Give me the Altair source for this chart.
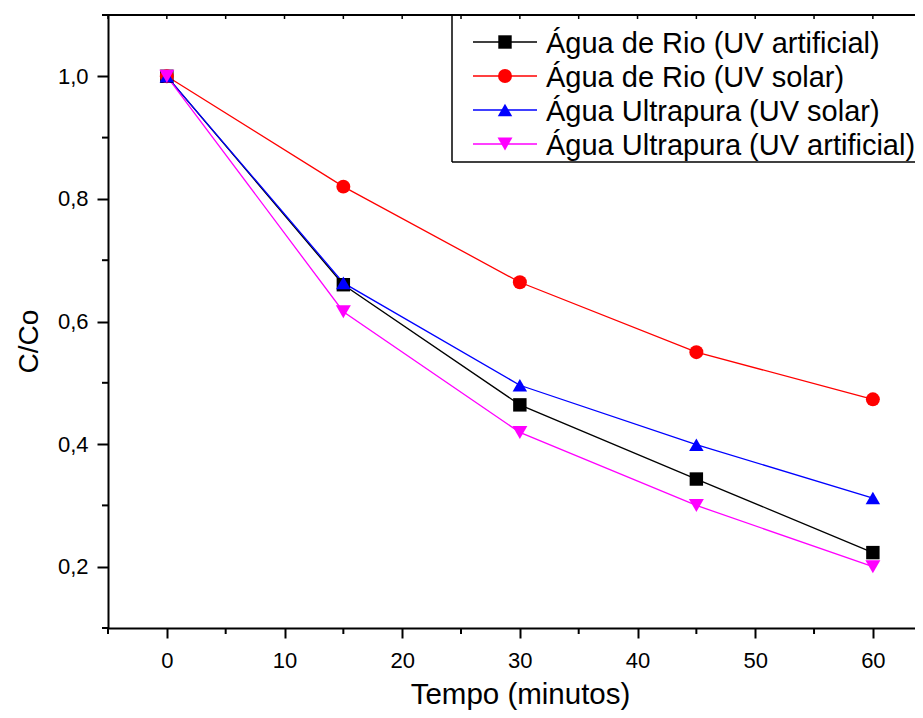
import altair as alt
import pandas as pd

# ---- data ----
tempo = [0, 15, 30, 45, 60]
series_names = [
    "Água de Rio (UV artificial)",
    "Água de Rio (UV solar)",
    "Água Ultrapura (UV solar)",
    "Água Ultrapura (UV artificial)",
]
rio_artificial = [1.0, 0.660, 0.464, 0.343, 0.223]
rio_solar = [1.0, 0.820, 0.664, 0.550, 0.473]
ultra_solar = [1.0, 0.663, 0.496, 0.399, 0.312]
ultra_artificial = [1.0, 0.616, 0.419, 0.300, 0.200]

colors = ["#000000", "#ff0000", "#0000ff", "#ff00ff"]
shapes = ["square", "circle", "triangle-up", "triangle-down"]
sizes = [180, 225, 324, 324]

y_major = [0.2, 0.4, 0.6, 0.8, 1.0]
y_minor = [0.1, 0.3, 0.5, 0.7, 0.9, 1.1]
x_major = [0, 10, 20, 30, 40, 50, 60]
x_minor = [-5, 5, 15, 25, 35, 45, 55]
x_top = [-5, 0, 5, 10, 15, 20, 25, 30, 35, 40, 45, 50, 55, 60]

# ---- tables ----
rows = []
for name, vals in zip(series_names, [rio_artificial, rio_solar, ultra_solar, ultra_artificial]):
    for t, v in zip(tempo, vals):
        rows.append({"serie": name, "tempo": t, "cc": v})
df = pd.DataFrame(rows)
legend_df = pd.DataFrame({"serie": series_names, "idx": list(range(len(series_names)))})
ymin_df = pd.DataFrame({"cc": y_minor})
xmin_df = pd.DataFrame({"tempo": x_minor})
xtop_df = pd.DataFrame({"tempo": x_top})
one = pd.DataFrame({"a": [0]})

FONT = "Liberation Sans"
W, H = 807, 613

x_scale = alt.Scale(domain=[-5, 63.58], nice=False, zero=False)
y_scale = alt.Scale(domain=[0.1, 1.1], nice=False, zero=False)
color_scale = alt.Scale(domain=series_names, range=colors)
shape_scale = alt.Scale(domain=series_names, range=shapes)
size_scale = alt.Scale(domain=series_names, range=sizes)

x_axis = alt.Axis(
    values=x_major, tickSize=10, tickWidth=2, tickColor="black",
    domainWidth=2, domainColor="black", grid=False,
    labelFont=FONT, labelFontSize=22, labelColor="black",
    labelPadding=29, labelBaseline="alphabetic", labelFlush=False,
    title="Tempo (minutos)", titleFont=FONT, titleFontSize=29.5,
    titleFontWeight="normal", titleColor="black",
    titleX=412, titleY=75, titleBaseline="alphabetic", titleAlign="center",
)
y_axis = alt.Axis(
    values=y_major, tickSize=11, tickWidth=2, tickColor="black",
    domainWidth=2, domainColor="black", grid=False,
    labelFont=FONT, labelFontSize=22, labelColor="black",
    labelPadding=9, labelBaseline="middle",
    labelExpr="replace(format(datum.value, '.1f'), '.', ',')",
    title="C/Co", titleFont=FONT, titleFontSize=28,
    titleFontWeight="normal", titleColor="black",
    titleAngle=270, titleX=-71, titleY=326,
    titleBaseline="alphabetic", titleAlign="center",
)

X = alt.X("tempo:Q", scale=x_scale, axis=x_axis)
Y = alt.Y("cc:Q", scale=y_scale, axis=y_axis)
C = alt.Color("serie:N", scale=color_scale, legend=None)
S = alt.Shape("serie:N", scale=shape_scale, legend=None)
Z = alt.Size("serie:N", scale=size_scale, legend=None)

lines = alt.Chart(df).mark_line(strokeWidth=1.3).encode(x=X, y=Y, color=C)
points = alt.Chart(df).mark_point(filled=True, opacity=1, strokeWidth=0).encode(
    x=X, y=Y, color=C, shape=S, size=Z
)

y_minor_ticks = alt.Chart(ymin_df).mark_rule(color="black", strokeWidth=2).encode(
    y=Y, x=alt.value(-6), x2=alt.value(0)
)
x_minor_ticks = alt.Chart(xmin_df).mark_rule(color="black", strokeWidth=2).encode(
    x=X, y=alt.value(H), y2=alt.value(H + 6)
)
top_ticks = alt.Chart(xtop_df).mark_rule(color="black", strokeWidth=1.5).encode(
    x=X, y=alt.value(0), y2=alt.value(4)
)
top_frame = alt.Chart(one).mark_rule(color="black", strokeWidth=2).encode(
    x=alt.value(0), x2=alt.value(W), y=alt.value(0)
)
box_left = alt.Chart(one).mark_rule(color="black", strokeWidth=1.5).encode(
    x=alt.value(344), y=alt.value(0), y2=alt.value(147)
)
box_bottom = alt.Chart(one).mark_rule(color="black", strokeWidth=1.5).encode(
    x=alt.value(344), x2=alt.value(W), y=alt.value(147)
)

# legend rows, drawn by hand so that each row shows line + marker
legend_layers = []
for i, name in enumerate(series_names):
    row = alt.Chart(legend_df).transform_filter(alt.datum.idx == i)
    yrow = 27 + 34 * i
    legend_layers.append(
        row.mark_rule(strokeWidth=1.3).encode(
            x=alt.value(365), x2=alt.value(429), y=alt.value(yrow), color=C
        )
    )
    legend_layers.append(
        row.mark_point(filled=True, opacity=1, strokeWidth=0).encode(
            x=alt.value(397), y=alt.value(yrow), color=C, shape=S, size=Z
        )
    )
    legend_layers.append(
        row.mark_text(
            align="left", baseline="alphabetic", dy=10.5, fontSize=29, font=FONT, color="black"
        ).encode(x=alt.value(438), y=alt.value(yrow), text="serie:N")
    )

chart = (
    alt.layer(
        lines, points, y_minor_ticks, x_minor_ticks, top_ticks, top_frame,
        box_left, box_bottom, *legend_layers
    )
    .properties(
        width=W, height=H, autosize="none",
        padding={"left": 100, "top": 7, "right": 0, "bottom": 82},
        background="white",
    )
    .configure_view(stroke=None)
)

chart.save("out.html", embed_options={"renderer": "svg", "actions": False})
